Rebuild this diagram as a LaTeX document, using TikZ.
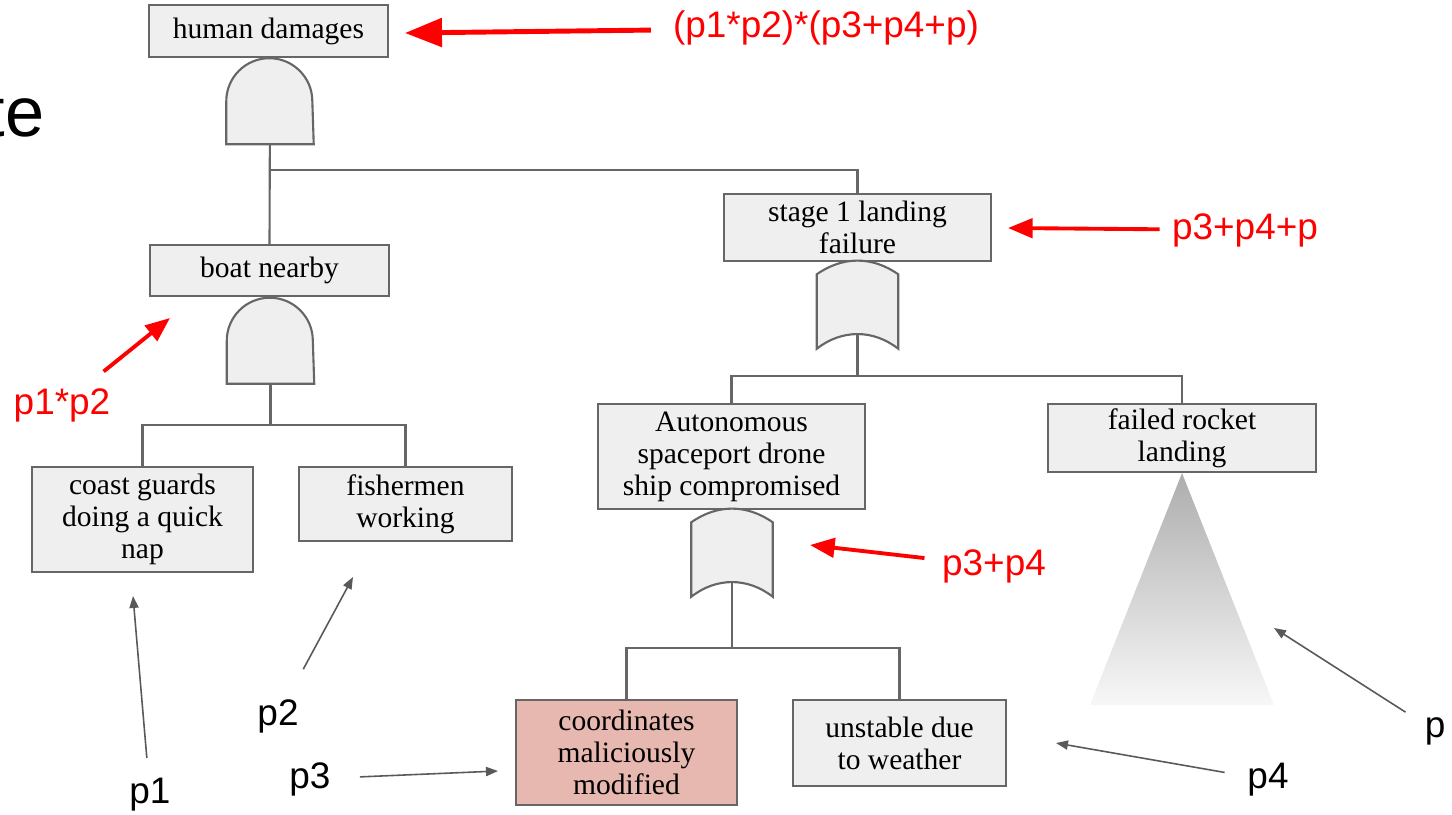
\documentclass[tikz,border=0pt]{standalone}
\usepackage{fontspec}
\setmainfont{Liberation Serif}
\newfontfamily\labelfont{Liberation Sans}
\usetikzlibrary{arrows.meta}
\definecolor{boxgray}{HTML}{EFEFEF}
\definecolor{linegray}{HTML}{666666}
\definecolor{pinkfill}{HTML}{E6B8AF}
\definecolor{arrowgray}{HTML}{595959}

\begin{document}
\begin{tikzpicture}[x=0.01cm, y=0.01cm,
  event/.style={draw=linegray, fill=boxgray, line width=0.6pt, align=center, inner sep=1pt, font=\fontsize{8.4}{9.1}\selectfont},
  gate/.style={minimum width=8.6mm, minimum height=8.6mm, inner sep=0pt},
  wire/.style={draw=linegray, line width=0.6pt},
  gateline/.style={draw=linegray, fill=boxgray, line width=0.6pt},
  note/.style={text=red, font=\labelfont\fontsize{10.5}{12}\selectfont},
  pnote/.style={font=\labelfont\fontsize{10.5}{12}\selectfont},
  redarrow/.style={draw=red, line width=1.1pt, -{Triangle[length=7pt,width=5.5pt]}},
  grayarrow/.style={draw=arrowgray, line width=0.45pt, -{Triangle[length=3.4pt,width=2.6pt]}, shorten <=3pt}]
\useasboundingbox (0,0) rectangle (1452,814);

\node[anchor=base east, inner sep=0pt, font=\labelfont\fontsize{20}{24}\selectfont] (title) at (45,678) {te};

% events
\node[event, minimum width=23.9mm, minimum height=5.2mm] (hd) at (268.5,783) {human damages};
\node[event, minimum width=23.9mm, minimum height=5.1mm] (boat) at (269.5,543.5) {boat nearby};
\node[event, minimum width=22.1mm, minimum height=10.5mm] (coast) at (142.5,294.5) {coast guards\\doing a quick\\nap};
\node[event, minimum width=21.3mm, minimum height=7.4mm] (fish) at (405.5,310) {fishermen\\working};
\node[event, minimum width=26.7mm, minimum height=6.7mm] (stage) at (857.5,586.5) {stage 1 landing\\failure};
\node[event, minimum width=26.7mm, minimum height=10.5mm] (auto) at (731.5,357.5) {Autonomous\\spaceport drone\\ship compromised};
\node[event, minimum width=26.8mm, minimum height=6.8mm] (rocket) at (1182,376) {failed rocket\\landing};
\node[event, fill=pinkfill, minimum width=22.1mm, minimum height=10.5mm] (coord) at (626.5,61.5) {coordinates\\maliciously\\modified};
\node[event, minimum width=21.3mm, minimum height=8.6mm] (unst) at (899.5,71) {unstable due\\to weather};

% gates
\node[gate] (and1) at (270,713.5) {};
\node[gate] (and2) at (270.5,474) {};
\node[gate, minimum width=8mm] (or1) at (857.5,509) {};
\node[gate, minimum width=8mm] (or2) at (732,261) {};

\draw[wire] (and1.center) -- (boat.north);
\draw[wire] (and1.center) -- ++(0,-69.5) -| (stage.north);
\draw[wire] (and2.center) -- ++(0,-85) -| (coast.north);
\draw[wire] (and2.center) -- ++(0,-85) -| (fish.north);
\draw[wire] (or1.center) -- ++(0,-71) -| (auto.north);
\draw[wire] (or1.center) -- ++(0,-71) -| (rocket.north);
\draw[wire] (or2.center) -- ++(0,-95) -| (coord.north);
\draw[wire] (or2.center) -- ++(0,-95) -| (unst.north);

\foreach \g in {and1,and2}
  \draw[gateline] (\g.south west) -- ++(0,43) arc[start angle=180, end angle=0, radius=4.3mm] -- (\g.south east) -- cycle;
\foreach \g in {or1,or2}
  \draw[gateline] (\g.south west) -- ([yshift=-1.3mm]\g.north west) to[bend left=35] ([yshift=-1.3mm]\g.north east)
    -- (\g.south east) to[bend right=38] (\g.south west) -- cycle;

% undeveloped event
\shade[top color=black!32, bottom color=black!3] (rocket.south) -- (1090,109) -- (1274,109) -- cycle;

% probabilities
\node[note] (l0) at (826,786) {(p1*p2)*(p3+p4+p)};
\node[note] (l1) at (1245,584) {p3+p4+p};
\node[note] (l2) at (994,248) {p3+p4};
\node[note] (l3) at (62,409) {p1*p2};
\coordinate (t0) at (405,781);
\coordinate (t1) at (1008,586);
\coordinate (t2) at (810,269);
\coordinate (t3) at (170,496);
\draw[redarrow, line width=1.4pt, -{Triangle[length=10.5pt,width=8pt]}, shorten <=2.8pt] (l0) -- (t0);
\draw[redarrow] (l1) -- (t1);
\draw[redarrow, shorten <=1.5pt] (l2) -- (t2);
\draw[redarrow, shorten <=2pt] (l3) -- (t3);

\node[pnote] (p1) at (150,19) {p1};
\node[pnote] (p2) at (278,98) {p2};
\node[pnote] (p3) at (310,35) {p3};
\node[pnote] (p4) at (1268,34) {p4};
\node[pnote] (p) at (1435,83) {p};
\coordinate (q1) at (133,218);
\coordinate (q2) at (353,237);
\coordinate (q3) at (498,43);
\coordinate (q4) at (1056,71);
\coordinate (q) at (1274,186);
\draw[grayarrow, shorten <=2.3pt] (p1) -- (q1);
\draw[grayarrow, shorten <=5.7pt] (p2) -- (q2);
\draw[grayarrow, shorten <=4.8pt] (p3) -- (q3);
\draw[grayarrow] (p4) -- (q4);
\draw[grayarrow, shorten <=2.3pt] (p) -- (q);
\end{tikzpicture}
\end{document}
